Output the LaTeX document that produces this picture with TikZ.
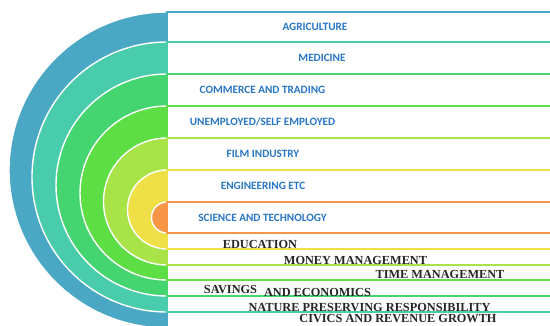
\documentclass[tikz,border=0pt]{standalone}
\usepackage{fontspec}
\setmainfont{Liberation Serif}
\newfontfamily\labfont{Carlito}
\usepackage{tikz}
\definecolor{ringblue}{RGB}{75,168,196}
\definecolor{ringteal}{RGB}{72,204,172}
\definecolor{ringgreen}{RGB}{68,212,112}
\definecolor{ringbright}{RGB}{92,222,68}
\definecolor{ringlime}{RGB}{168,228,72}
\definecolor{ringyellow}{RGB}{240,224,72}
\definecolor{ringorange}{RGB}{247,150,70}
\definecolor{labblue}{RGB}{40,118,200}

\begin{document}
\begin{tikzpicture}[x=1pt,y=-1pt,
  disc/.style={draw=white,line width=1.4pt},
  band/.style={fill=white,line width=1.2pt},
  blab/.style={font=\labfont\bfseries\fontsize{11.2}{11.2}\selectfont,text=labblue,inner sep=0pt,text depth=0pt},
  klab/.style={font=\bfseries\fontsize{12.3}{12.3}\selectfont,text=black!85,inner sep=0pt,text depth=0pt}]
    \useasboundingbox (0,0) rectangle (550,325);

   \begin{scope}
    \clip (0,0) rectangle (167,330);
    \filldraw[disc,fill=ringblue]   (167,170)   circle[radius=158];
    \filldraw[disc,fill=ringteal]   (167,177)   circle[radius=135];
    \filldraw[disc,fill=ringgreen]  (167,185)   circle[radius=111];
    \filldraw[disc,fill=ringbright] (167,193)   circle[radius=87];
    \filldraw[disc,fill=ringlime]   (167,201.5) circle[radius=63.5];
    \filldraw[disc,fill=ringyellow] (167,209.5) circle[radius=39.5];
    \filldraw[disc,fill=ringorange] (167,217.5) circle[radius=15.5];
   \end{scope}

    \draw[band,draw=ringblue]   (167,12)  rectangle (560,328);
    \draw[band,draw=ringteal]   (167,42)  rectangle (560,312);
    \draw[band,draw=ringgreen]  (167,74)  rectangle (560,296);
    \draw[band,draw=ringbright] (167,106) rectangle (560,280);
    \draw[band,draw=ringlime]   (167,138) rectangle (560,265);
    \draw[band,draw=ringyellow] (167,170) rectangle (560,249);
    \draw[band,draw=ringorange] (167,202) rectangle (560,233);

    \node[blab] (agri) at (315,26.5) {AGRICULTURE};
    \node[blab] (med) at (322,58) {MEDICINE};
    \node[blab] (comm) at (262.5,90) {COMMERCE AND TRADING};
    \node[blab] (unemp) at (262.5,121.5) {UNEMPLOYED/SELF EMPLOYED};
    \node[blab] (film) at (263,153.5) {FILM INDUSTRY};
    \node[blab] (eng) at (263,185.5) {ENGINEERING ETC};
    \node[blab] (sci) at (262.5,217.5) {SCIENCE AND TECHNOLOGY};

    \node[klab] (edu) at (260,244.5) {EDUCATION};
    \node[klab] (money) at (355.5,260.3) {MONEY MANAGEMENT};
    \node[klab] (time) at (440,274.5) {TIME MANAGEMENT};
    \node[klab] (sav) at (230.5,289) {SAVINGS};
    \node[klab] (econ) at (317.5,292) {AND ECONOMICS};
    \node[klab] (nature) at (369.5,307) {NATURE PRESERVING RESPONSIBILITY};
    \node[klab] (civ) at (398,318.3) {CIVICS AND REVENUE GROWTH};
\end{tikzpicture}
\end{document}
